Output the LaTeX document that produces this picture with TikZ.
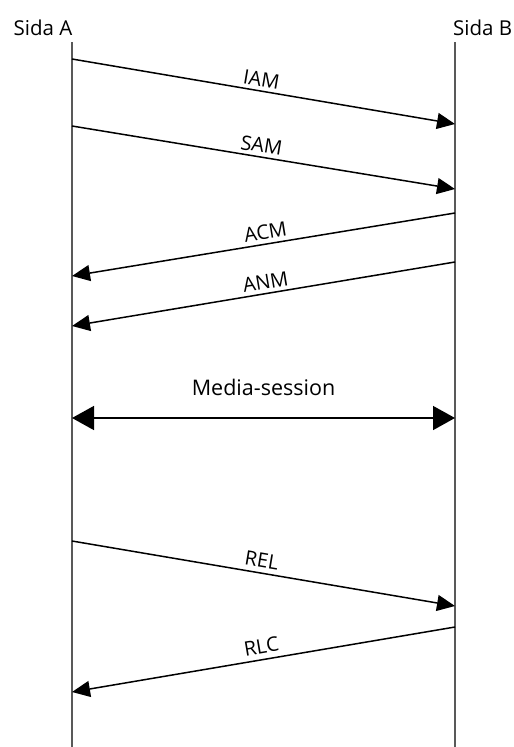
\documentclass[tikz,border=0pt]{standalone}
\usepackage{fontspec}
\setmainfont{Open Sans}
\usetikzlibrary{arrows.meta}
\begin{document}
\begin{tikzpicture}[x=1pt,y=-1pt,
  life/.style={line width=2pt,draw=black!65},
  msg/.style={line width=1.5pt,-{Triangle[length=18pt,width=16pt]}},
  biarrow/.style={line width=1.5pt,{Triangle[length=22pt,width=24pt]}-{Triangle[length=22pt,width=24pt]}},
  lbl/.style={font=\fontsize{20}{24}\selectfont,sloped,above,inner sep=3.5pt},
  head/.style={font=\fontsize{20.5}{24}\selectfont,inner sep=0pt}]
\useasboundingbox (0,0) rectangle (514,747);
% lifeline ends
\coordinate (At) at (72,42);
\coordinate (Ab) at (72,747);
\coordinate (Bt) at (455,42);
\coordinate (Bb) at (455,747);
\node[head,anchor=base] (sa) at (43,35) {Sida A};
\node[head,anchor=base west] (sb) at (453,35) {Sida B};
\draw[life] (At) -- (Ab);
\draw[life] (Bt) -- (Bb);
% message endpoints
\coordinate (a1) at (72,59);   \coordinate (b1) at (455,124);
\coordinate (a2) at (72,126);  \coordinate (b2) at (455,189);
\coordinate (b3) at (455,213); \coordinate (a3) at (72,276);
\coordinate (b4) at (455,262); \coordinate (a4) at (72,326);
\coordinate (a5) at (72,418);  \coordinate (b5) at (455,418);
\coordinate (a6) at (72,541);  \coordinate (b6) at (455,606);
\coordinate (b7) at (455,627); \coordinate (a7) at (72,692);
\draw[msg] (a1) -- node[lbl,pos=0.49] (liam) {IAM} (b1);
\draw[msg] (a2) -- node[lbl,pos=0.49] (lsam) {SAM} (b2);
\draw[msg] (b3) -- node[lbl,pos=0.49] (lacm) {ACM} (a3);
\draw[msg] (b4) -- node[lbl,pos=0.49] (lanm) {ANM} (a4);
\draw[biarrow] (a5) -- node[font=\fontsize{21.5}{24}\selectfont,above,inner sep=0pt,yshift=22pt] (lmed) {Media-session} (b5);
\draw[msg] (a6) -- node[lbl,pos=0.49,inner sep=5pt] (lrel) {REL} (b6);
\draw[msg] (b7) -- node[lbl,pos=0.5,inner sep=5pt] (lrlc) {RLC} (a7);
\end{tikzpicture}
\end{document}
